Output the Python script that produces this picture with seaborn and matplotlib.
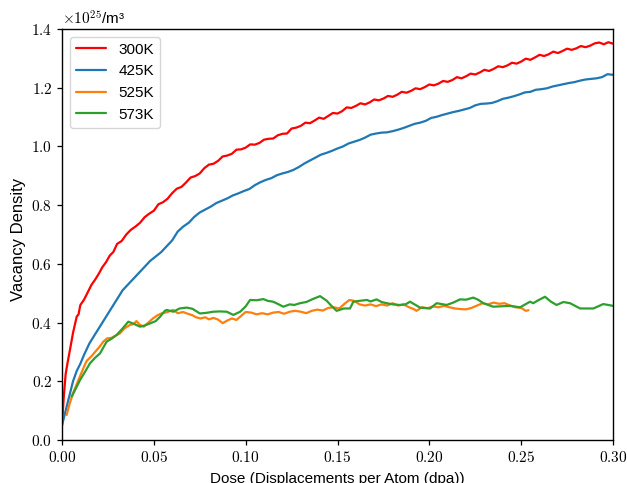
import numpy as np
import pandas as pd
import matplotlib
matplotlib.use("Agg")
import matplotlib.pyplot as plt
import matplotlib.ticker as mticker
import seaborn as sns

# ---------------- data ----------------
labels = ["300K", "425K", "525K", "573K"]

dose_300 = [0.000, 0.001, 0.002, 0.003, 0.004, 0.005, 0.006, 0.007, 0.008, 0.009,
            0.010, 0.012, 0.014, 0.016, 0.018, 0.020, 0.022, 0.024, 0.026, 0.028,
            0.0300, 0.0325, 0.0350, 0.0375, 0.0400, 0.0425, 0.0450, 0.0475, 0.0500, 0.0525,
            0.0550, 0.0575, 0.0600, 0.0625, 0.0650, 0.0675, 0.0700, 0.0725, 0.0750, 0.0775,
            0.0800, 0.0825, 0.0850, 0.0875, 0.0900, 0.0925, 0.0950, 0.0975, 0.1000, 0.1025,
            0.1050, 0.1075, 0.1100, 0.1125, 0.1150, 0.1175, 0.1200, 0.1225, 0.1250, 0.1275,
            0.1300, 0.1325, 0.1350, 0.1375, 0.1400, 0.1425, 0.1450, 0.1475, 0.1500, 0.1525,
            0.1550, 0.1575, 0.1600, 0.1625, 0.1650, 0.1675, 0.1700, 0.1725, 0.1750, 0.1775,
            0.1800, 0.1825, 0.1850, 0.1875, 0.1900, 0.1925, 0.1950, 0.1975, 0.2000, 0.2025,
            0.2050, 0.2075, 0.2100, 0.2125, 0.2150, 0.2175, 0.2200, 0.2225, 0.2250, 0.2275,
            0.2300, 0.2325, 0.2350, 0.2375, 0.2400, 0.2425, 0.2450, 0.2475, 0.2500, 0.2525,
            0.2550, 0.2575, 0.2600, 0.2625, 0.2650, 0.2675, 0.2700, 0.2725, 0.2750, 0.2775,
            0.2800, 0.2825, 0.2850, 0.2875, 0.2900, 0.2925, 0.2950, 0.2975, 0.3000]
vac_300 = [0.050, 0.150, 0.225, 0.262, 0.295, 0.330, 0.365, 0.392, 0.420, 0.428,
           0.460, 0.478, 0.503, 0.528, 0.546, 0.566, 0.589, 0.606, 0.628, 0.641,
           0.668, 0.678, 0.700, 0.716, 0.727, 0.740, 0.759, 0.771, 0.781, 0.803,
           0.810, 0.822, 0.841, 0.856, 0.862, 0.877, 0.894, 0.899, 0.908, 0.926,
           0.938, 0.941, 0.951, 0.966, 0.969, 0.975, 0.989, 0.990, 0.996, 1.007,
           1.006, 1.012, 1.023, 1.026, 1.027, 1.038, 1.043, 1.044, 1.061, 1.064,
           1.070, 1.081, 1.079, 1.088, 1.098, 1.094, 1.104, 1.114, 1.112, 1.120,
           1.133, 1.131, 1.138, 1.147, 1.143, 1.150, 1.160, 1.157, 1.163, 1.172,
           1.169, 1.176, 1.186, 1.183, 1.189, 1.198, 1.195, 1.202, 1.211, 1.208,
           1.214, 1.223, 1.220, 1.226, 1.236, 1.232, 1.239, 1.248, 1.245, 1.252,
           1.261, 1.257, 1.264, 1.273, 1.270, 1.276, 1.285, 1.282, 1.289, 1.299,
           1.295, 1.303, 1.312, 1.308, 1.314, 1.323, 1.318, 1.325, 1.333, 1.329,
           1.334, 1.342, 1.338, 1.343, 1.351, 1.354, 1.348, 1.355, 1.350]

dose_425 = [0.000, 0.002, 0.004, 0.006, 0.008, 0.010, 0.012, 0.015, 0.018, 0.021,
            0.024, 0.027, 0.030, 0.033, 0.036, 0.039, 0.042, 0.045, 0.048, 0.051,
            0.054, 0.057, 0.060, 0.063, 0.066, 0.069, 0.072, 0.075, 0.078, 0.081,
            0.084, 0.087, 0.090, 0.093, 0.096, 0.099, 0.102, 0.105, 0.108, 0.111,
            0.114, 0.117, 0.120, 0.123, 0.126, 0.129, 0.132, 0.135, 0.138, 0.141,
            0.144, 0.147, 0.150, 0.153, 0.156, 0.159, 0.162, 0.165, 0.168, 0.171,
            0.174, 0.177, 0.180, 0.183, 0.186, 0.189, 0.192, 0.195, 0.198, 0.201,
            0.204, 0.207, 0.210, 0.213, 0.216, 0.219, 0.222, 0.225, 0.228, 0.231,
            0.234, 0.237, 0.240, 0.243, 0.246, 0.249, 0.252, 0.255, 0.258, 0.261,
            0.264, 0.267, 0.270, 0.273, 0.276, 0.279, 0.282, 0.285, 0.288, 0.291,
            0.294, 0.297, 0.300]
vac_425 = [0.050, 0.100, 0.150, 0.200, 0.235, 0.260, 0.290, 0.330, 0.360, 0.390,
           0.420, 0.450, 0.480, 0.510, 0.530, 0.550, 0.570, 0.590, 0.610, 0.625,
           0.640, 0.660, 0.680, 0.710, 0.727, 0.740, 0.760, 0.775, 0.785, 0.795,
           0.807, 0.815, 0.823, 0.833, 0.840, 0.848, 0.855, 0.868, 0.878, 0.886,
           0.892, 0.902, 0.908, 0.913, 0.920, 0.930, 0.942, 0.952, 0.962, 0.972,
           0.978, 0.985, 0.993, 1.000, 1.010, 1.016, 1.022, 1.030, 1.040, 1.044,
           1.047, 1.048, 1.052, 1.057, 1.063, 1.070, 1.077, 1.081, 1.087, 1.097,
           1.101, 1.107, 1.112, 1.117, 1.121, 1.126, 1.131, 1.140, 1.145, 1.146,
           1.148, 1.154, 1.162, 1.166, 1.171, 1.177, 1.184, 1.186, 1.193, 1.195,
           1.198, 1.204, 1.208, 1.212, 1.216, 1.219, 1.224, 1.228, 1.230, 1.232,
           1.236, 1.246, 1.244]

dose_525 = [0.0025, 0.004, 0.006, 0.008, 0.010, 0.012, 0.0135, 0.016, 0.018, 0.0205,
            0.0225, 0.0245, 0.027, 0.029, 0.0315, 0.034, 0.037, 0.039, 0.0405, 0.0425,
            0.0445, 0.047, 0.0495, 0.052, 0.0545, 0.057, 0.0605, 0.063, 0.066, 0.068,
            0.071, 0.073, 0.0755, 0.078, 0.080, 0.0825, 0.085, 0.0875, 0.090, 0.0925,
            0.095, 0.097, 0.100, 0.103, 0.106, 0.109, 0.112, 0.115, 0.118, 0.121,
            0.124, 0.127, 0.130, 0.133, 0.136, 0.139, 0.142, 0.145, 0.148, 0.151,
            0.154, 0.1565, 0.159, 0.162, 0.165, 0.168, 0.171, 0.174, 0.177, 0.180,
            0.183, 0.186, 0.189, 0.1915, 0.193, 0.196, 0.199, 0.202, 0.205, 0.208,
            0.211, 0.214, 0.217, 0.220, 0.223, 0.226, 0.229, 0.232, 0.235, 0.238,
            0.241, 0.244, 0.247, 0.250, 0.2525, 0.254]
vac_525 = [0.085, 0.120, 0.160, 0.190, 0.220, 0.250, 0.270, 0.285, 0.300, 0.318,
           0.335, 0.346, 0.348, 0.355, 0.363, 0.380, 0.392, 0.395, 0.405, 0.392,
           0.386, 0.400, 0.414, 0.425, 0.432, 0.435, 0.443, 0.432, 0.436, 0.431,
           0.425, 0.418, 0.414, 0.418, 0.411, 0.416, 0.410, 0.398, 0.407, 0.414,
           0.409, 0.420, 0.436, 0.434, 0.428, 0.432, 0.428, 0.434, 0.436, 0.430,
           0.437, 0.440, 0.437, 0.432, 0.440, 0.444, 0.441, 0.450, 0.452, 0.448,
           0.465, 0.477, 0.474, 0.462, 0.458, 0.462, 0.456, 0.462, 0.458, 0.466,
           0.458, 0.462, 0.452, 0.446, 0.440, 0.452, 0.449, 0.455, 0.452, 0.457,
           0.452, 0.448, 0.446, 0.445, 0.450, 0.458, 0.466, 0.462, 0.468, 0.464,
           0.466, 0.458, 0.452, 0.450, 0.440, 0.442]

dose_573 = [0.0053, 0.0075, 0.0098, 0.0125, 0.0152, 0.018, 0.0207, 0.0225, 0.0243, 0.027,
            0.0298, 0.033, 0.0361, 0.039, 0.0425, 0.045, 0.0479, 0.051, 0.0534, 0.056,
            0.057, 0.0606, 0.064, 0.0679, 0.071, 0.0751, 0.0785, 0.0824, 0.086, 0.0897,
            0.0933, 0.097, 0.100, 0.1024, 0.106, 0.1096, 0.112, 0.115, 0.118, 0.1205,
            0.124, 0.1265, 0.1296, 0.133, 0.1365, 0.1405, 0.144, 0.147, 0.1495, 0.1535,
            0.1568, 0.1586, 0.162, 0.166, 0.168, 0.1713, 0.174, 0.1768, 0.180, 0.184,
            0.187, 0.1895, 0.1925, 0.1949, 0.2004, 0.204, 0.2094, 0.213, 0.2167, 0.220,
            0.2239, 0.2265, 0.2294, 0.2348, 0.2439, 0.2494, 0.2548, 0.2566, 0.259, 0.263,
            0.266, 0.2693, 0.273, 0.2766, 0.2821, 0.2893, 0.2947, 0.300]
vac_573 = [0.148, 0.175, 0.204, 0.232, 0.261, 0.280, 0.295, 0.315, 0.335, 0.345,
           0.358, 0.380, 0.403, 0.396, 0.386, 0.390, 0.397, 0.405, 0.420, 0.440,
           0.443, 0.437, 0.448, 0.451, 0.447, 0.431, 0.433, 0.437, 0.438, 0.437,
           0.426, 0.437, 0.455, 0.477, 0.476, 0.480, 0.474, 0.471, 0.462, 0.454,
           0.462, 0.460, 0.466, 0.470, 0.480, 0.490, 0.475, 0.455, 0.440, 0.448,
           0.448, 0.471, 0.474, 0.477, 0.472, 0.479, 0.470, 0.466, 0.462, 0.460,
           0.462, 0.471, 0.460, 0.451, 0.448, 0.466, 0.460, 0.468, 0.479, 0.478,
           0.485, 0.478, 0.466, 0.454, 0.457, 0.452, 0.471, 0.466, 0.475, 0.488,
           0.472, 0.460, 0.470, 0.466, 0.448, 0.448, 0.463, 0.457]

x_ticks = [0.00, 0.05, 0.10, 0.15, 0.20, 0.25, 0.30]
y_ticks = [0.0, 0.2, 0.4, 0.6, 0.8, 1.0, 1.2, 1.4]

# ---------------- build long-form table ----------------
frames = []
for lab, d, v in zip(labels, [dose_300, dose_425, dose_525, dose_573],
                     [vac_300, vac_425, vac_525, vac_573]):
    frames.append(pd.DataFrame({"dose": d, "vac": v, "T": lab}))
df = pd.concat(frames, ignore_index=True)

palette = {"300K": "#ff0000", "425K": "#1f77b4", "525K": "#ff7f0e", "573K": "#2ca02c"}

# ---------------- style ----------------
sns.set_theme(style="ticks")
plt.rcParams.update({
    "font.family": ["Liberation Sans", "DejaVu Sans"],
    "mathtext.fontset": "cm",
    "axes.edgecolor": "black",
    "axes.linewidth": 1.0,
    "xtick.color": "black",
    "ytick.color": "black",
    "xtick.major.size": 3.5,
    "ytick.major.size": 3.5,
    "xtick.major.width": 0.9,
    "ytick.major.width": 0.9,
    "text.color": "black",
    "axes.labelcolor": "black",
})

fig = plt.figure(figsize=(6.27, 4.83), dpi=100)
ax = fig.add_axes([62 / 627, 43 / 483, 551 / 627, 411 / 483])

sns.lineplot(data=df, x="dose", y="vac", hue="T", palette=palette,
             hue_order=labels, estimator=None, sort=False, linewidth=1.6, ax=ax)

ax.set_xlim(0, 0.30)
ax.set_ylim(0, 1.4)
ax.set_xticks(x_ticks)
ax.set_yticks(y_ticks)
ax.xaxis.set_major_formatter(mticker.FuncFormatter(lambda v, p: f"${v:.2f}$"))
ax.yaxis.set_major_formatter(mticker.FuncFormatter(lambda v, p: f"${v:.1f}$"))
ax.tick_params(axis="both", labelsize=11)

ax.set_xlabel("Dose (Displacements per Atom (dpa))", fontsize=11, labelpad=5)
ax.set_ylabel("Vacancy Density", fontsize=12)
ax.yaxis.set_label_coords(-0.066, 0.487)

ax.text(0.0, 1.004, r"$\times10^{25}$/m³", transform=ax.transAxes,
        ha="left", va="bottom", fontsize=11)

leg = ax.legend(loc="upper left", fontsize=11, frameon=True, title=None,
                handlelength=2.0)
leg.get_frame().set_edgecolor("#cccccc")
for line in leg.get_lines():
    line.set_linewidth(1.6)

fig.savefig("out.png", dpi=100)
